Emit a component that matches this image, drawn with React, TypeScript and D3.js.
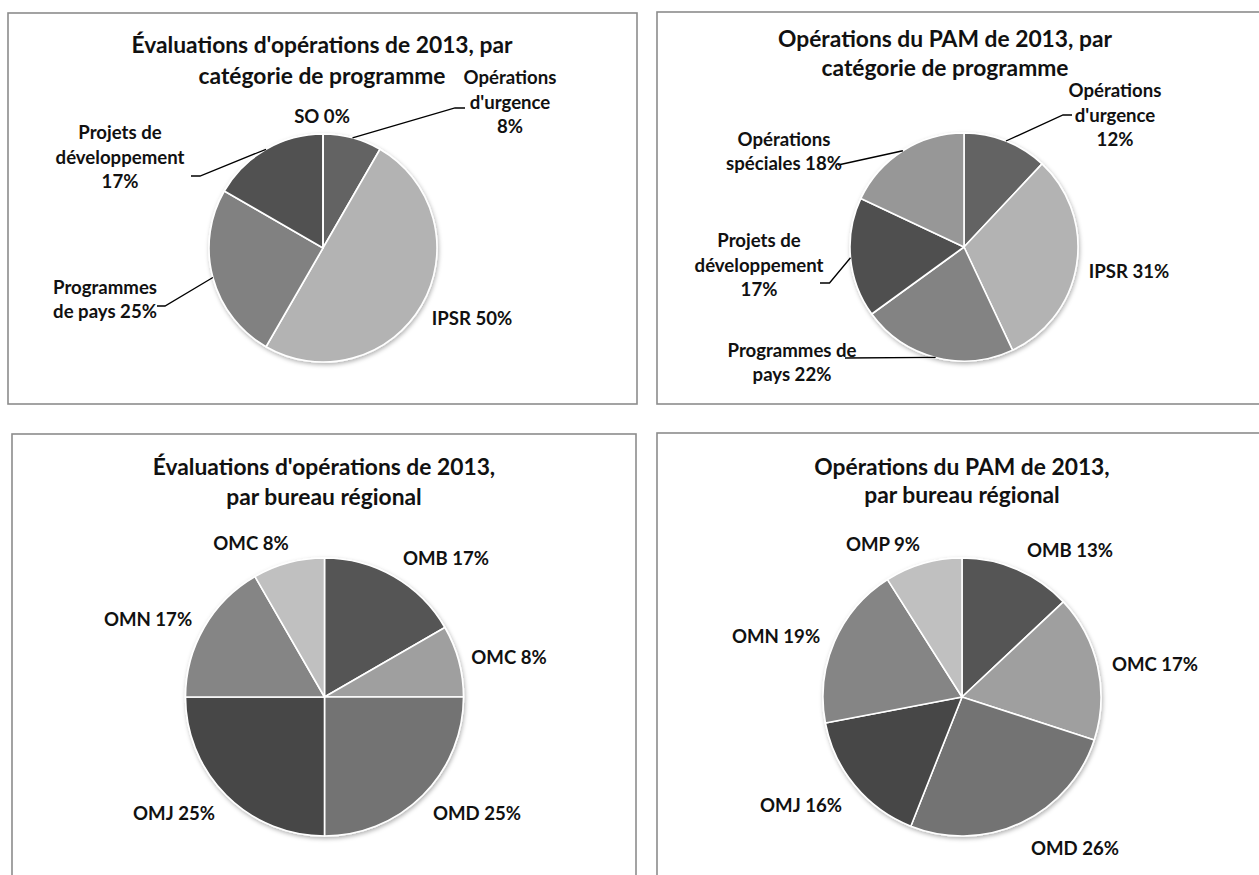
import React from "react";
import * as d3 from "d3";

// ---------- DATA ----------
const evalProgCategories = ["Opérations d'urgence", "IPSR", "Programmes de pays", "Projets de développement", "SO"];
const evalProgValues = [1, 6, 3, 2, 0]; // nombre d'évaluations (sur 12)

const pamProgCategories = ["Opérations d'urgence", "IPSR", "Programmes de pays", "Projets de développement", "Opérations spéciales"];
const pamProgValues = [12, 31, 22, 17, 18];

const evalRegionCategories = ["OMB", "OMC", "OMD", "OMJ", "OMN", "OMC"];
const evalRegionValues = [2, 1, 3, 3, 2, 1];

const pamRegionCategories = ["OMB", "OMC", "OMD", "OMJ", "OMN", "OMP"];
const pamRegionValues = [13, 17, 26, 16, 19, 9];

const titles = [
  ["Évaluations d'opérations de 2013, par", "catégorie de programme"],
  ["Opérations du PAM de 2013, par", "catégorie de programme"],
  ["Évaluations d'opérations de 2013,", "par bureau régional"],
  ["Opérations du PAM de 2013,", "par bureau régional"],
];

// ---------- STYLE / LAYOUT ----------
const progColors1 = ["#646464", "#b3b3b3", "#818181", "#515151", "#969696"];
const progColors2 = ["#646464", "#b3b3b3", "#838383", "#505050", "#979797"];
const regionColors = ["#555555", "#9f9f9f", "#737373", "#464646", "#858585", "#c0c0c0"];

const FONT = "Lato, 'Open Sans', sans-serif";
const TITLE_SIZE = 22.8;
const LABEL_SIZE = 18.6;
const LINE_STEP = 24.5;

type LabelLayout = { dx: number; dy: number; words: number[]; leader?: number[][] };

const panels = [
  {
    box: [8, 13, 637, 404],
    cx: 323, cy: 248, r: 114,
    title: titles[0], titleX: 322, titleY: [45, 76],
    categories: evalProgCategories, values: evalProgValues, colors: progColors1,
    labels: [
      { dx: 187, dy: -146, words: [1, 1, 1], leader: [[132, -140], [142, -140]] },
      { dx: 149, dy: 70, words: [2] },
      { dx: -218, dy: 51.5, words: [1, 3], leader: [[-158, 58], [-166, 58]] },
      { dx: -203, dy: -91, words: [2, 1, 1], leader: [[-123, -72], [-132, -72]] },
      { dx: -1, dy: -132, words: [2] },
    ] as LabelLayout[],
  },
  {
    box: [657, 12, 1270, 404],
    cx: 964, cy: 247, r: 114,
    title: titles[1], titleX: 945, titleY: [39, 68],
    categories: pamProgCategories, values: pamProgValues, colors: progColors2,
    labels: [
      { dx: 151, dy: -132, words: [1, 1, 1], leader: [[99, -132], [108, -132]] },
      { dx: 165, dy: 24, words: [2] },
      { dx: -172, dy: 115.5, words: [2, 2], leader: [[-119, 111]] },
      { dx: -205, dy: 18, words: [2, 1, 1], leader: [[-134.5, 36], [-144, 36]] },
      { dx: -180, dy: -95.5, words: [1, 2], leader: [[-126, -82]] },
    ] as LabelLayout[],
  },
  {
    box: [12, 434, 636, 900],
    cx: 324.5, cy: 697, r: 139,
    title: titles[2], titleX: 324, titleY: [467, 497],
    categories: evalRegionCategories, values: evalRegionValues, colors: regionColors,
    labels: [
      { dx: 121.5, dy: -139, words: [2] },
      { dx: 184.5, dy: -40, words: [2] },
      { dx: 152.5, dy: 116, words: [2] },
      { dx: -150.5, dy: 116, words: [2] },
      { dx: -176.5, dy: -78, words: [2] },
      { dx: -73.5, dy: -154, words: [2] },
    ] as LabelLayout[],
  },
  {
    box: [657, 433, 1270, 900],
    cx: 962, cy: 697, r: 139,
    title: titles[3], titleX: 962, titleY: [467, 495],
    categories: pamRegionCategories, values: pamRegionValues, colors: regionColors,
    labels: [
      { dx: 108, dy: -147, words: [2] },
      { dx: 193, dy: -33, words: [2] },
      { dx: 113, dy: 151, words: [2] },
      { dx: -161, dy: 108, words: [2] },
      { dx: -186, dy: -61, words: [2] },
      { dx: -79, dy: -153, words: [2] },
    ] as LabelLayout[],
  },
];

function splitLines(text: string, words: number[]): string[] {
  const w = text.split(" ");
  const out: string[] = [];
  let i = 0;
  for (const n of words) {
    out.push(w.slice(i, i + n).join(" "));
    i += n;
  }
  if (i < w.length) out[out.length - 1] += " " + w.slice(i).join(" ");
  return out;
}

function PiePanel({ p }: { p: (typeof panels)[number] }) {
  const total = d3.sum(p.values);
  const pie = d3.pie<number>().sort(null).value((d) => d)(p.values);
  const arc = d3.arc<d3.PieArcDatum<number>>().innerRadius(0).outerRadius(p.r);
  const [x0, y0, x1, y1] = p.box;
  return (
    <g>
      <rect x={x0} y={y0} width={x1 - x0} height={y1 - y0} fill="#fff" stroke="#8c8c8c" strokeWidth={1.6} />
      {p.title.map((t, i) => (
        <text key={i} x={p.titleX} y={p.titleY[i] + TITLE_SIZE * 0.36} textAnchor="middle"
          fontFamily={FONT} fontWeight={700} fontSize={TITLE_SIZE} fill="#111">{t}</text>
      ))}
      <g transform={`translate(${p.cx},${p.cy})`}>
        <g filter={`url(#shadow)`}>
          {pie.map((s, i) => (
            <path key={i} d={arc(s) || ""} fill={p.colors[i]} stroke="#fff" strokeWidth={1.6} strokeLinejoin="round" />
          ))}
        </g>
        {pie.map((s, i) => {
          const L = p.labels[i];
          if (!L.leader) return null;
          const mid = (s.startAngle + s.endAngle) / 2;
          const start = [Math.sin(mid) * p.r, -Math.cos(mid) * p.r];
          const pts = [start, ...L.leader];
          return (
            <path key={"l" + i} d={d3.line()(pts as [number, number][]) || ""} fill="none" stroke="#000" strokeWidth={1.3} />
          );
        })}
        {pie.map((s, i) => {
          const L = p.labels[i];
          const pct = Math.round((s.data / total) * 100);
          const lines = splitLines(`${p.categories[i]} ${pct}%`, L.words);
          const top = L.dy - ((lines.length - 1) * LINE_STEP) / 2;
          return (
            <g key={"t" + i}>
              {lines.map((ln, j) => (
                <text key={j} x={L.dx} y={top + j * LINE_STEP + LABEL_SIZE * 0.36} textAnchor="middle"
                  fontFamily={FONT} fontWeight={700} fontSize={LABEL_SIZE} fill="#111">{ln}</text>
              ))}
            </g>
          );
        })}
      </g>
    </g>
  );
}

export default function App() {
  return (
    <div style={{ position: "absolute", left: 0, top: 0 }}>
      <svg width={1259} height={875} viewBox="0 0 1259 875" style={{ display: "block", background: "#fff" }}>
        <defs>
          <filter id="shadow" x="-20%" y="-20%" width="140%" height="140%">
            <feDropShadow dx="1" dy="2" stdDeviation="2" floodColor="#000" floodOpacity="0.3" />
          </filter>
        </defs>
        <rect x={0} y={0} width={1259} height={875} fill="#fff" />
        {panels.map((p, i) => (
          <PiePanel key={i} p={p} />
        ))}
      </svg>
    </div>
  );
}
